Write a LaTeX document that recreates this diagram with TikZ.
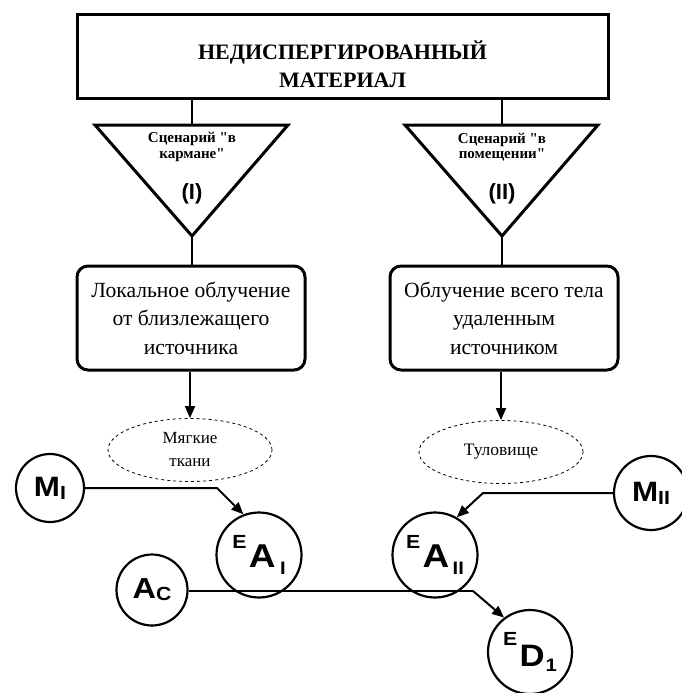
\documentclass[tikz,border=0pt]{standalone}
\usepackage{fontspec}
\usepackage{graphicx}
\setmainfont{Liberation Serif}[Ligatures=TeXOff]
\newfontfamily\sansf{Liberation Sans}
\usetikzlibrary{arrows.meta,shapes.geometric}
\tikzset{
  conn/.style={line width=2pt},
  arr/.style={line width=2pt,-{Triangle[length=12pt,width=10pt]}},
  tri/.style={line width=3pt,line join=miter},
  rbox/.style={draw,line width=3pt,rounded corners=11pt,minimum width=228,minimum height=104,align=center,font=\fontsize{21.6}{28.5}\selectfont},
  ell/.style={draw,dashed,ellipse,line width=0.8pt,minimum width=164,minimum height=63,align=center,font=\fontsize{17}{23}\selectfont},
  circ/.style={draw,circle,line width=2.2pt,fill=white,inner sep=0pt,font=\sansf\bfseries},
  trit/.style={align=center,font=\bfseries\fontsize{15}{15.5}\selectfont},
  romn/.style={font=\sansf\bfseries\fontsize{22}{22}\selectfont},
}
\newcommand{\wideb}[1]{\scalebox{1.12}[1]{#1}}
\newcommand{\fs}[1]{\fontsize{#1}{#1}\selectfont}
\begin{document}
\begin{tikzpicture}[x=1pt,y=-1pt]
\useasboundingbox (0,0) rectangle (681,693);
% top box
\node[draw,line width=3pt,minimum width=531,minimum height=83] (top) at (342.5,56.5) {};
\node[align=center,font=\bfseries\fontsize{22}{28}\selectfont] (toptxt) at (342.5,64)
      {НЕДИСПЕРГИРОВАННЫЙ\\МАТЕРИАЛ};
% triangles
\coordinate (t1top) at (192,125);
\coordinate (t1bot) at (192,236);
\coordinate (t2top) at (502,125);
\coordinate (t2bot) at (502,236);
\draw[tri] (95,125) -- (288,125) -- (t1bot) -- cycle;
\draw[tri] (405,125) -- (598,125) -- (t2bot) -- cycle;
\node[trit] (s1) at (192,147) {Сценарий "в\\кармане"};
\node[trit] (s2) at (502,147) {Сценарий "в\\помещении"};
\node[romn] (n1) at (192,194) {(I)};
\node[romn] (n2) at (502,194) {(II)};
\draw[conn] (top.south -| t1top) -- (t1top);
\draw[conn] (top.south -| t2top) -- (t2top);
% rounded boxes
\node[rbox] (r1) at (191,318) {Локальное облучение\\от близлежащего\\источника};
\node[rbox] (r2) at (504,318) {Облучение всего тела\\удаленным\\источником};
\draw[conn] (t1bot) -- (t1bot |- r1.north);
\draw[conn] (t2bot) -- (t2bot |- r2.north);
% ellipses
\node[ell] (e1) at (190,450) {Мягкие\\ткани};
\node[ell] (e2) at (501,452) {\fontsize{17.5}{23}\selectfont Туловище};
\draw[arr] (r1.south -| e1.north) -- (e1.north);
\draw[arr] (r2.south -| e2.north) -- (e2.north);
% circles
\node[circ,minimum size=68] (MI) at (50,488)
  {\wideb{\fs{28}M\raisebox{-3pt}{\fs{19}I}}};
\node[circ,minimum size=74] (MII) at (651,493)
  {\wideb{\fs{28}M\raisebox{-3pt}{\fs{19}II}}};
\node[circ,minimum size=71] (AC) at (152,590)
  {\wideb{\fs{29}A\raisebox{-2pt}{\fs{19}C}}};
\node[circ,minimum size=85] (EAI) at (259,555)
  {\wideb{\raisebox{19pt}{\fs{19}E}\hspace{2pt}\fs{33}A\hspace{4pt}\raisebox{-7pt}{\fs{18}I}}};
\node[circ,minimum size=85] (EAII) at (435,555)
  {\wideb{\raisebox{19pt}{\fs{19}E}\hspace{2pt}\fs{33}A\hspace{3pt}\raisebox{-7pt}{\fs{18}II}}};
\node[circ,minimum size=84] (ED) at (530,652)
  {\wideb{\raisebox{21pt}{\fs{19}E}\hspace{2pt}\fs{31}D\hspace{1pt}\raisebox{-5pt}{\fs{18}1}}};
\coordinate (k1) at (217,488);
\coordinate (k2) at (483,493);
\coordinate (k3) at (473,591);
\draw[conn] (AC.east |- k3) -- (k3);
\draw[arr] (MI.east) -- (k1) -- (EAI.111);
\draw[arr] (MII.west) -- (k2) -- (EAII.60);
\draw[arr] (k3) -- (ED.127);
\end{tikzpicture}
\end{document}
